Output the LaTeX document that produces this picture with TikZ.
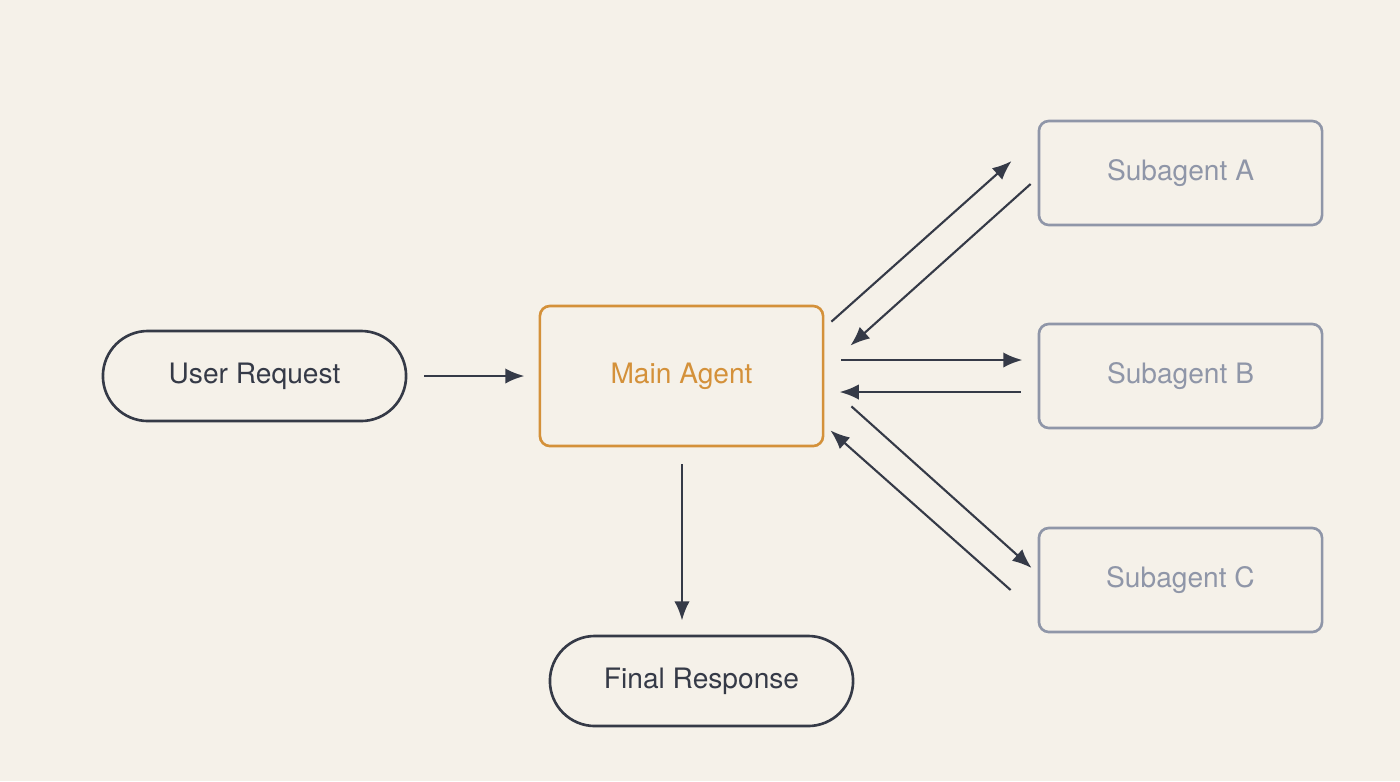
\documentclass[tikz,border=0pt]{standalone}
\usepackage{fontspec}
\setmainfont{TeX Gyre Heros}
\usetikzlibrary{positioning}
\usetikzlibrary{calc}
\usetikzlibrary{arrows.meta}

\definecolor{bgcol}{HTML}{F5F1E9}
\definecolor{ink}{HTML}{353A47}
\definecolor{mainorange}{HTML}{D4913A}
\definecolor{subgray}{HTML}{8F96A8}

\begin{document}
\begin{tikzpicture}[x=0.01cm,y=-0.01cm]
\tikzstyle{term} =[rectangle,rounded corners=0.45cm,draw=ink,line width=0.75pt,text=ink,minimum width=3.03cm,minimum height=0.9cm,font=\fontsize{8}{10}\selectfont]
\tikzstyle{agent} =[rectangle,rounded corners=0.1cm,draw=mainorange,line width=0.75pt,text=mainorange,minimum width=2.83cm,minimum height=1.4cm,font=\fontsize{8}{10}\selectfont]
\tikzstyle{sub} =[rectangle,rounded corners=0.1cm,draw=subgray,line width=0.75pt,text=subgray,minimum width=2.83cm,minimum height=1.04cm,font=\fontsize{8}{10}\selectfont]
\tikzstyle{flow} =[draw=ink,line width=0.6pt,-{Latex[length=5.5pt,width=4.4pt]}]
\fill[bgcol] (0,0) rectangle (1400,781);
\useasboundingbox (0,0) rectangle (1400,781);

\node[term](user) at (254.5,376){User Request};
\node[agent](main) at (681.5,376){Main Agent};
\node[term](final) at (701.5,681){Final Response};

\node[sub](subA) at (1180.5,173){Subagent A};
\node[sub](subB) at (1180.5,376){Subagent B};
\node[sub](subC) at (1180.5,580){Subagent C};

\draw[flow,line width=0.8pt,shorten <=17*0.01cm,shorten >=14*0.01cm] (user.east)--(main.west);
\draw[flow,line width=0.8pt] ($(main.south)+(0.5,17)$)--($(final.north)+(-19.5,-14)$);

% to and from subagent B
\draw[flow,line width=0.8pt] ($(main.east)+(17,-16)$)--($(subB.west)+(-15,-16)$);
\draw[flow,line width=0.8pt] ($(subB.west)+(-17,16)$)--($(main.east)+(15,16)$);

% to and from subagent A
\coordinate (mA) at ($(main.north east)+(7,17)$);
\coordinate (sA) at ($(subA.west)+(-26,-12)$);
\draw[flow] (mA)--(sA);
\coordinate (sA2) at ($(subA.west)+(-7,11)$);
\coordinate (mA2) at ($(main.north east)+(26,41)$);
\draw[flow] (sA2)--(mA2);

% to and from subagent C
\coordinate (mC) at ($(main.south east)+(27,-41)$);
\coordinate (sC) at ($(subC.west)+(-6,-12)$);
\draw[flow] (mC)--(sC);
\coordinate (sC2) at ($(subC.west)+(-27,10)$);
\coordinate (mC2) at ($(main.south east)+(6,-17)$);
\draw[flow] (sC2)--(mC2);
\end{tikzpicture}
\end{document}
